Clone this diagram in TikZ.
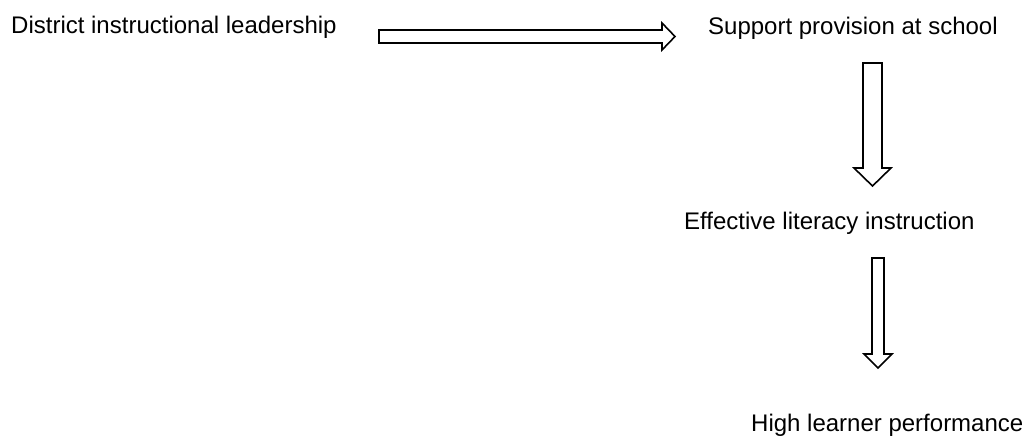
\documentclass[tikz,border=0pt]{standalone}
\usepackage{fontspec}
\setmainfont{Liberation Sans}
\usetikzlibrary{calc}
\tikzset{
  lbl/.style={anchor=base west, inner sep=0pt, font=\fontsize{24}{28}\selectfont},
  blk/.style={draw=black, fill=white, line width=1.6pt, line join=miter}
}
% horizontal block arrow: #1 start coord, #2 tip coord, #3 half shaft, #4 half head, #5 head length
\newcommand{\harrowblk}[5]{%
  \draw[blk] ($(#1)+(0,-#3)$) -- ($(#2)+(-#5,-#3)$) -- ($(#2)+(-#5,-#4)$) -- (#2)
    -- ($(#2)+(-#5,#4)$) -- ($(#2)+(-#5,#3)$) -- ($(#1)+(0,#3)$) -- cycle;}
% vertical (downward) block arrow, y axis pointing down
\newcommand{\varrowblk}[5]{%
  \draw[blk] ($(#1)+(-#3,0)$) -- ($(#2)+(-#3,-#5)$) -- ($(#2)+(-#4,-#5)$) -- (#2)
    -- ($(#2)+(#4,-#5)$) -- ($(#2)+(#3,-#5)$) -- ($(#1)+(#3,0)$) -- cycle;}
\begin{document}
\begin{tikzpicture}[x=1pt,y=-1pt]
\useasboundingbox (0,0) rectangle (1029,437);
\node[lbl] (district) at (11,33) {District instructional leadership};
\node[lbl] (support) at (708,34) {Support provision at school};
\node[lbl] (effective) at (684,229) {Effective literacy instruction};
\node[lbl] (high) at (751,431) {High learner performance};
% connectors
\coordinate (a1s) at (379,36.5);
\coordinate (a1t) at (675,36.5);
\harrowblk{a1s}{a1t}{6.5}{13.5}{13}
\coordinate (a2s) at (872.5,63);
\coordinate (a2t) at (872.5,186);
\varrowblk{a2s}{a2t}{9.5}{18.5}{18}
\coordinate (a3s) at (878,258);
\coordinate (a3t) at (878,368);
\varrowblk{a3s}{a3t}{6}{14}{14}
\end{tikzpicture}
\end{document}
